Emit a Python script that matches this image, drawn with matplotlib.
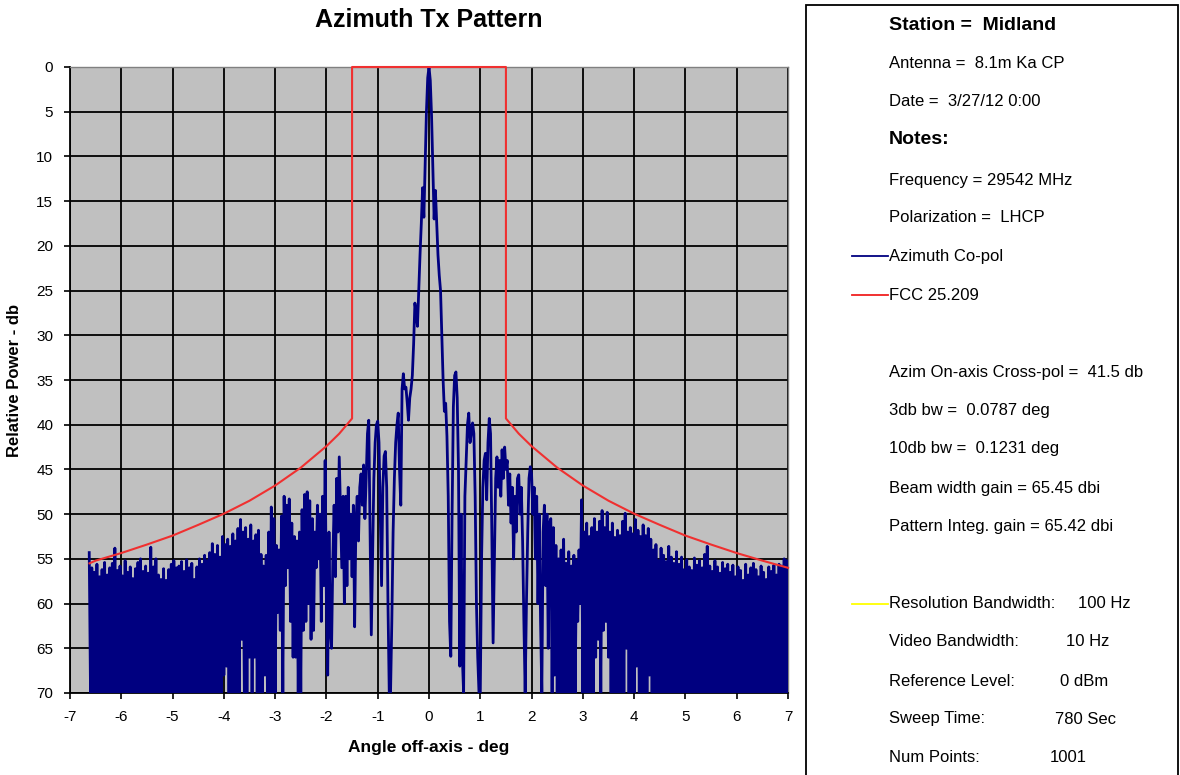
import numpy as np
import matplotlib
matplotlib.use('Agg')
import matplotlib.pyplot as plt
from matplotlib.lines import Line2D
from matplotlib.patches import Rectangle

plt.rcParams['font.family'] = ['Liberation Sans', 'DejaVu Sans']
plt.rcParams['axes.unicode_minus'] = False

# Azimuth co-pol trace (dB below peak), one row per 0.5 deg
start_angle = -6.625
angle_step = 0.025
copol_db = [
    54.3, 70, 56.0, 70, 56.5, 70, 55.6, 70, 57.0, 70, 56.2, 70, 55.4, 70, 56.8, 70, 56.0, 70, 55.5, 70,   # -6.625
    53.8, 70, 56.3, 70, 55.8, 70, 56.9, 70, 55.2, 70, 56.5, 70, 55.9, 70, 57.2, 70, 56.1, 70, 55.4, 70,   # -6.125
    55.0, 70, 56.4, 70, 55.8, 70, 56.6, 70, 53.7, 70, 55.9, 70, 55.0, 70, 56.8, 70, 57.3, 70, 56.1, 70,   # -5.625
    57.4, 70, 56.2, 70, 55.6, 70, 55.2, 70, 56.0, 70, 55.8, 70, 55.3, 70, 56.4, 70, 55.1, 70, 56.0, 70,   # -5.125
    55.5, 70, 57.3, 70, 55.9, 70, 55.0, 70, 55.6, 70, 54.6, 70, 55.2, 70, 54.3, 70, 53.3, 70, 54.5, 70,   # -4.625
    53.5, 70, 54.8, 70, 52.5, 68, 53.4, 67, 52.8, 70, 53.6, 70, 52.2, 70, 53.0, 70, 51.6, 70, 50.6, 64,   # -4.125
    52.0, 70, 51.5, 70, 52.8, 66, 51.2, 70, 53.0, 66, 52.3, 70, 51.8, 70, 54.5, 70, 55.8, 68, 54.6, 70,   # -3.625
    52.0, 70, 49.2, 70, 50.5, 70, 53.5, 61, 54.0, 63, 50.2, 70, 48.0, 58, 49.0, 56, 48.3, 62, 51.0, 66,   # -3.125
    52.5, 66, 53.0, 70, 52.0, 70, 49.5, 63, 47.8, 62, 47.5, 60, 48.5, 64, 50.5, 63, 52.0, 56, 49.0, 55,   # -2.625
    50.0, 62, 48.0, 58, 44.0, 60, 68, 52, 63, 65, 55, 49, 57, 46, 52, 43.6, 50, 56, 48, 60,               # -2.125
    48, 58, 47, 55, 50, 57, 49, 62.6, 51, 48, 53, 47, 45.5, 49, 44.5, 50.5, 46, 41, 39.5, 52,             # -1.625
    63.5, 55, 46, 42, 40, 39.6, 42, 50, 58, 47, 43.5, 43.0, 47, 60, 70, 70, 62, 52, 46, 42,               # -1.125
    40, 38.7, 45, 49, 36, 34.3, 36, 35.8, 37.5, 39.5, 37, 36, 34.5, 31, 26.4, 27.5, 29, 25, 21, 17.5,     # -0.625
    13.5, 16.8, 11, 5, 1.2, 0, 1.5, 5.5, 11.5, 17, 13.8, 17.5, 21, 23.3, 25, 30, 35, 38.5, 37.6, 41.3,    # -0.125
    48, 62, 65.9, 50, 38, 34.5, 34.1, 37, 45, 67, 50, 66, 70, 48, 44, 40, 38.7, 42, 41, 39.8,             # 0.375
    41, 48, 60, 66, 70, 70, 55, 47, 44, 43.2, 48.4, 42, 39.3, 41, 52, 64.4, 55, 46, 43.6, 47,             # 0.875
    44, 48, 42.8, 46, 42.5, 45, 44, 49, 45.5, 51, 47, 55, 48, 52, 46, 45.6, 50, 47, 53, 62,               # 1.375
    70, 60, 52, 46, 44.7, 45.5, 50, 47, 55, 48, 60, 50, 62, 70, 52, 49, 58, 50, 65, 51,                   # 1.875
    50.5, 70, 51.5, 68, 53.5, 70, 55, 70, 54, 70, 52.8, 70, 55.5, 70, 54.2, 70, 55.8, 70, 54.6, 70,       # 2.375
    55.2, 62, 54, 60, 48.4, 70, 52, 70, 51, 70, 52.5, 70, 51.5, 70, 50.5, 66, 52, 64, 50.8, 70,           # 2.875
    49.6, 63, 51.5, 62, 49.8, 66, 52, 70, 51, 70, 52.6, 70, 51.8, 70, 52.4, 70, 50.8, 70, 49.9, 65,       # 3.375
    52, 70, 51.5, 70, 52.2, 70, 50.6, 67, 51.8, 70, 52.5, 70, 51.2, 70, 52.4, 70, 51.6, 68, 52.8, 70,     # 3.875
    54, 70, 53.4, 70, 55.2, 70, 53.8, 70, 54.6, 70, 55.3, 70, 53.6, 70, 54.8, 70, 55.5, 70, 54.2, 70,     # 4.375
    55.6, 70, 54.8, 70, 56.2, 70, 55.1, 70, 55.9, 70, 56.3, 70, 54.9, 70, 55.7, 70, 55.2, 70, 56.0, 70,   # 4.875
    54.5, 70, 53.6, 70, 55.8, 70, 56.4, 70, 55.2, 70, 55.9, 70, 56.6, 70, 55.4, 70, 56.1, 70, 55.6, 70,   # 5.375
    56.5, 70, 55.7, 70, 57.0, 70, 55.9, 70, 56.3, 70, 57.4, 70, 55.6, 70, 56.8, 70, 56.0, 70, 55.5, 70,   # 5.875
    56.2, 70, 57.0, 70, 55.8, 70, 56.5, 70, 57.3, 70, 55.9, 70, 56.4, 70, 55.7, 70, 56.8, 70, 55.6, 70,   # 6.375
    55.8, 70, 55.0, 70, 55.2, 70,                                                                         # 6.875
]

# FCC 25.209 mask
fcc_angle = [-6.62, -6.5, -6, -5.5, -5, -4.5, -4, -3.5, -3, -2.5, -2, -1.75, -1.5, -1.5,
             1.5, 1.5, 1.75, 2, 2.5, 3, 3.5, 4, 4.5, 5, 5.5, 6, 6.5, 7]
fcc_db = [55.5, 55.2, 54.35, 53.4, 52.4, 51.2, 49.95, 48.5, 46.8, 44.8, 42.4, 41.0, 39.3, 0,
          0, 39.3, 41.0, 42.4, 44.8, 46.8, 48.5, 49.95, 51.2, 52.4, 53.4, 54.35, 55.2, 56.0]

x_ticks = list(range(-7, 8))
y_ticks = list(range(0, 75, 5))

info_lines = [
    ('Station =  Midland', 25, True),
    ('Antenna =  8.1m Ka CP', 64, False),
    ('Date =  3/27/12 0:00', 102, False),
    ('Notes:', 140, True),
    ('Frequency = 29542 MHz', 181, False),
    ('Polarization =  LHCP', 218, False),
    ('Azim On-axis Cross-pol =  41.5 db', 373, False),
    ('3db bw =  0.0787 deg', 411, False),
    ('10db bw =  0.1231 deg', 449, False),
    ('Beam width gain = 65.45 dbi', 488, False),
    ('Pattern Integ. gain = 65.42 dbi', 526, False),
]
settings = [
    ('Resolution Bandwidth:', '100 Hz', 604, 1078),
    ('Video Bandwidth:', '10 Hz', 642, 1066),
    ('Reference Level:', '0 dBm', 681, 1060),
    ('Sweep Time:', '780 Sec', 719, 1055),
    ('Num Points:', '1001', 758, 1050),
]

W, H = 1180, 775
fig = plt.figure(figsize=(W / 100, H / 100), dpi=100)
ax = fig.add_axes([70 / W, 1 - 693 / H, 718 / W, 626 / H])
ax.set_facecolor('#C0C0C0')

angles = start_angle + angle_step * np.arange(len(copol_db))
ax.plot(angles, copol_db, color='#000080', lw=2.0, zorder=3)
ax.plot(fcc_angle, fcc_db, color='#F03030', lw=1.5, zorder=4, clip_on=False)

ax.set_xlim(-7, 7)
ax.set_ylim(70, 0)
ax.set_xticks(x_ticks)
ax.set_yticks(y_ticks)
ax.grid(True, color='black', lw=1.3, zorder=1)
ax.set_axisbelow(True)
ax.tick_params(labelsize=11, length=4, width=1.2, color='black', pad=8)
for s in ['left', 'bottom']:
    ax.spines[s].set_color('black')
    ax.spines[s].set_linewidth(1.3)
for s in ['top', 'right']:
    ax.spines[s].set_color('#808080')
    ax.spines[s].set_linewidth(1.0)

ax.set_title('Azimuth Tx Pattern', fontsize=18, fontweight='bold', pad=29)
ax.set_xlabel('Angle off-axis - deg', fontsize=12.5, fontweight='bold', labelpad=12)
ax.set_ylabel('Relative Power - db', fontsize=12, fontweight='bold', labelpad=10)

# info box on the right
fig.patches.append(Rectangle((806 / W, -0.05), (1178 - 806) / W, 1.05 - 5 / H,
                             transform=fig.transFigure, fill=False,
                             edgecolor='black', lw=1.3))
tx = 889 / W
for text, y, bold in info_lines:
    fig.text(tx, 1 - y / H, text, fontsize=14 if bold else 12,
             fontweight='bold' if bold else 'normal', va='center')

def legend_line(y, color, label):
    fig.lines.append(Line2D([852 / W, 888 / W], [1 - y / H] * 2,
                            transform=fig.transFigure, color=color, lw=1.3))
    if label:
        fig.text(tx, 1 - y / H, label, fontsize=12, va='center')

legend_line(256, '#000080', 'Azimuth Co-pol')
legend_line(295, '#F02020', 'FCC 25.209')
legend_line(604, '#FFFF00', None)

for label, value, y, vx in settings:
    fig.text(tx, 1 - y / H, label, fontsize=12, va='center')
    fig.text(vx / W, 1 - y / H, value, fontsize=12, va='center')

fig.savefig('out.png', dpi=100)
